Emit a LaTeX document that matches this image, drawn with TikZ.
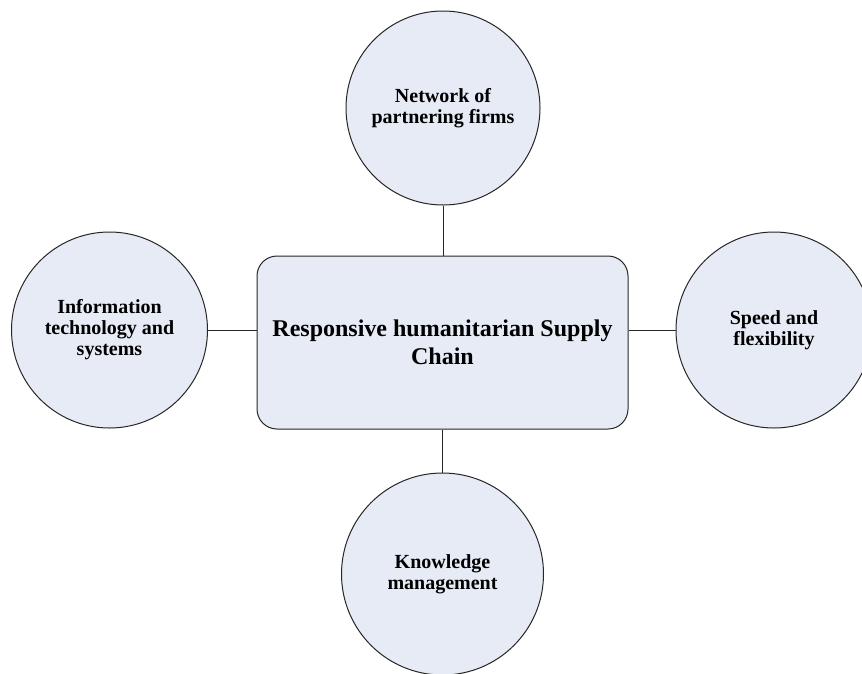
\documentclass[tikz,border=0pt]{standalone}
\usepackage{fontspec}
\setmainfont{Liberation Serif}
\usetikzlibrary{shapes}
\definecolor{bubblefill}{RGB}{230,235,246}
\tikzset{
bubble/.style={
	draw=black!85, fill=bubblefill, circle, line width=1pt,
	align=center, inner sep=0pt,
	font=\bfseries\fontsize{20}{21}\selectfont},
hub/.style={
	draw=black!85, fill=bubblefill, rectangle, rounded corners=20pt,
	line width=1pt, minimum width=371pt, minimum height=173pt,
	align=center, font=\bfseries\fontsize{24}{28}\selectfont},
link/.style={draw=black!85, line width=1pt}
}

\begin{document}
\begin{tikzpicture}[x=1pt, y=1pt]
	\useasboundingbox (0,0) rectangle (862,-673);
	\node[hub] (chain) at (442.5,-342.5) {Responsive humanitarian Supply\\Chain};
	\node[bubble, minimum size=194pt] (net) at (443,-108) {Network of\\partnering firms};
	\node[bubble, minimum size=196pt] (info) at (109.5,-330) {Information\\technology and\\systems};
	\node[bubble, minimum size=196pt] (speed) at (774,-330) {Speed and\\flexibility};
	\node[bubble, minimum size=202pt] (know) at (442.5,-574) {Knowledge\\management};
	\draw[link] (net.south) -- (chain.north -| net.south);
	\draw[link] (chain.south -| know.north) -- (know.north);
	\draw[link] (info.east) -- (info.east -| chain.west);
	\draw[link] (chain.east |- speed.west) -- (speed.west);
\end{tikzpicture}
\end{document}
